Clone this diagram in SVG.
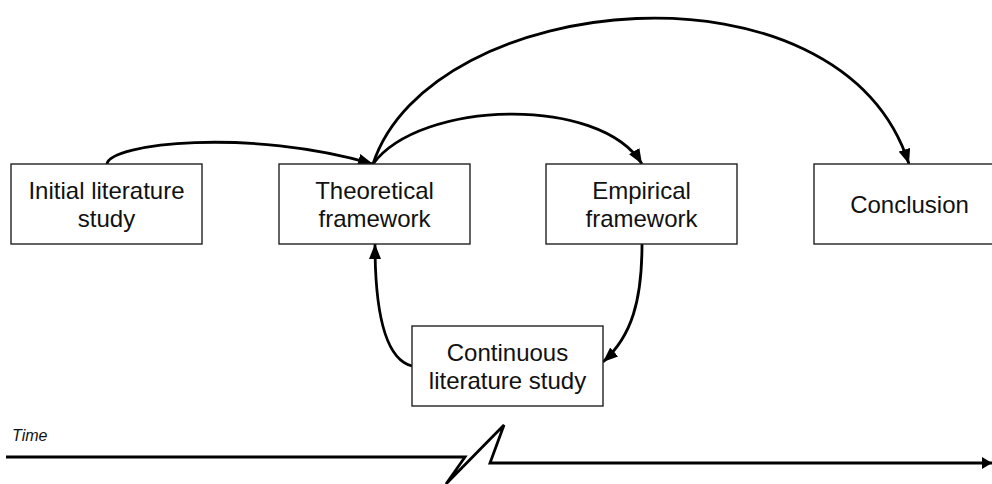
<svg xmlns="http://www.w3.org/2000/svg" width="992" height="484" viewBox="0 0 992 484">
  <style>
    .box { fill: #ffffff; stroke: #222222; stroke-width: 1.4; }
    .lbl { font-family: "Liberation Sans", Arial, sans-serif; font-size: 24px; fill: #111111; text-anchor: middle; }
    .edge { fill: none; stroke: #000000; stroke-width: 2.8; }
    .time { font-family: "Liberation Sans", Arial, sans-serif; font-size: 16px; font-style: italic; fill: #111111; }
  </style>
  <defs>
    <marker id="arrow" markerUnits="userSpaceOnUse" markerWidth="16" markerHeight="12" refX="15" refY="6" orient="auto">
      <path d="M0,0 L15,6 L0,12 Z" fill="#000000"/>
    </marker>
    <marker id="arrowSmall" markerUnits="userSpaceOnUse" markerWidth="11" markerHeight="12" refX="10" refY="6" orient="auto">
      <path d="M0,0 L10,6 L0,12 Z" fill="#000000"/>
    </marker>
  </defs>

  <g id="connectors">
    <path class="edge" d="M107,164 C110,143 250,128 373,164" marker-end="url(#arrow)"/>
    <path class="edge" d="M373,164 C420,100 600,95 642,164" marker-end="url(#arrow)"/>
    <path class="edge" d="M373,164 C430,-10 840,-50 909,164" marker-end="url(#arrow)"/>
    <path class="edge" d="M642,244 C642,300 632,336 603,362" marker-end="url(#arrow)"/>
    <path class="edge" d="M412,366 C388,360 375,320 375,244" marker-end="url(#arrow)"/>
  </g>

  <g id="initial-literature-study">
    <rect class="box" x="11" y="164" width="191" height="80"/>
    <text class="lbl" x="106.5" y="199">Initial literature</text>
    <text class="lbl" x="106.5" y="227">study</text>
  </g>

  <g id="theoretical-framework">
    <rect class="box" x="279" y="164" width="191" height="80"/>
    <text class="lbl" x="374.5" y="199">Theoretical</text>
    <text class="lbl" x="374.5" y="227">framework</text>
  </g>

  <g id="empirical-framework">
    <rect class="box" x="546" y="164" width="191" height="80"/>
    <text class="lbl" x="641.5" y="199">Empirical</text>
    <text class="lbl" x="641.5" y="227">framework</text>
  </g>

  <g id="conclusion">
    <rect class="box" x="814" y="164" width="191" height="80"/>
    <text class="lbl" x="909.5" y="213">Conclusion</text>
  </g>

  <g id="continuous-literature-study">
    <rect class="box" x="412" y="326" width="191" height="80"/>
    <text class="lbl" x="507.5" y="361">Continuous</text>
    <text class="lbl" x="507.5" y="389">literature study</text>
  </g>

  <g id="timeline">
    <text class="time" x="12" y="441">Time</text>
    <path class="edge" d="M6,457 L465,457 L446,484 L504,425 L490,463 L992,463" stroke-linejoin="miter" marker-end="url(#arrowSmall)"/>
  </g>
</svg>
